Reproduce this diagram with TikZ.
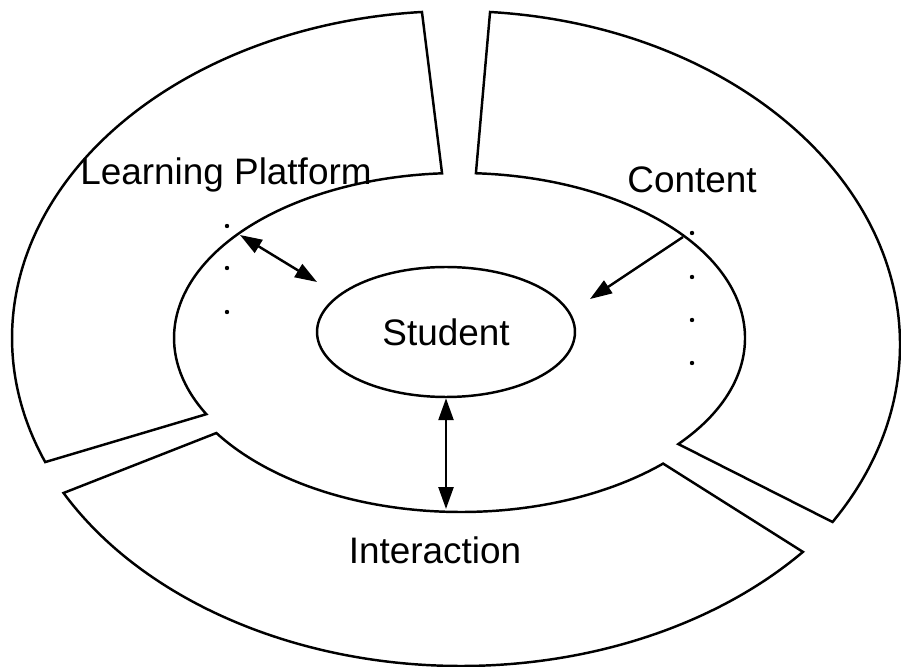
\documentclass[tikz,border=0pt]{standalone}
\usepackage{fontspec}
\setmainfont{Liberation Sans}
\usetikzlibrary{shapes.geometric,arrows.meta,calc}
\begin{document}
\begin{tikzpicture}[x=0.02cm,y=0.02cm,line width=1.4pt,
  ringtext/.style={font=\fontsize{21}{25}\selectfont,anchor=base,inner sep=0pt},
  onehead/.style={-{Triangle[length=0.44cm,width=0.3cm]}},
  twoheads/.style={{Triangle[length=0.44cm,width=0.3cm]}-{Triangle[length=0.44cm,width=0.3cm]}}]
\useasboundingbox (0,0) rectangle (901,666);

\draw ($(456,328)+(94.4:444 and 327)$) arc[start angle=94.4,end angle=202.3,x radius=444,y radius=327]
  -- ($(460,328)+(207.5:286 and 165)$) arc[start angle=207.5,end angle=93.6,x radius=286,y radius=165] -- cycle;
\draw ($(456,321)+(85.6:444 and 334)$) arc[start angle=85.6,end angle=-32,x radius=444,y radius=334]
  -- ($(460,328)+(-40:285 and 165)$) arc[start angle=-40,end angle=86.8,x radius=285,y radius=165] -- cycle;
\draw ($(461,328)+(208.2:451 and 328)$) arc[start angle=208.2,end angle=319.3,x radius=451,y radius=328]
  -- ($(461,328)+(313.8:292 and 174)$) arc[start angle=313.8,end angle=213.1,x radius=292,y radius=174] -- cycle;

\node[ringtext] (lp) at (226,481) {Learning Platform};
\node[ringtext] (content) at (692,473) {Content};
\node[ringtext] (interaction) at (435,103) {Interaction};
\node[draw,ellipse,minimum width=5.16cm,minimum height=2.6cm,inner sep=0pt,
  font=\fontsize{21}{25}\selectfont] (student) at (446,334) {Student};

\foreach \y in {440,398,354}
{ \fill (227,\y) circle[radius=2.2];
}
\foreach \y in {433,389,346,303}
{ \fill (692,\y) circle[radius=2.2];
}

\coordinate (lpend) at (240,431);
\coordinate (lpnear) at (317,384);
\coordinate (ctend) at (683,429);
\coordinate (ctnear) at (590,367);
\coordinate (inend) at (446,157);
\draw[twoheads] (lpend) -- (lpnear);
\draw[onehead] (ctend) -- (ctnear);
\draw[twoheads] (student.south) -- (inend);
\end{tikzpicture}
\end{document}
